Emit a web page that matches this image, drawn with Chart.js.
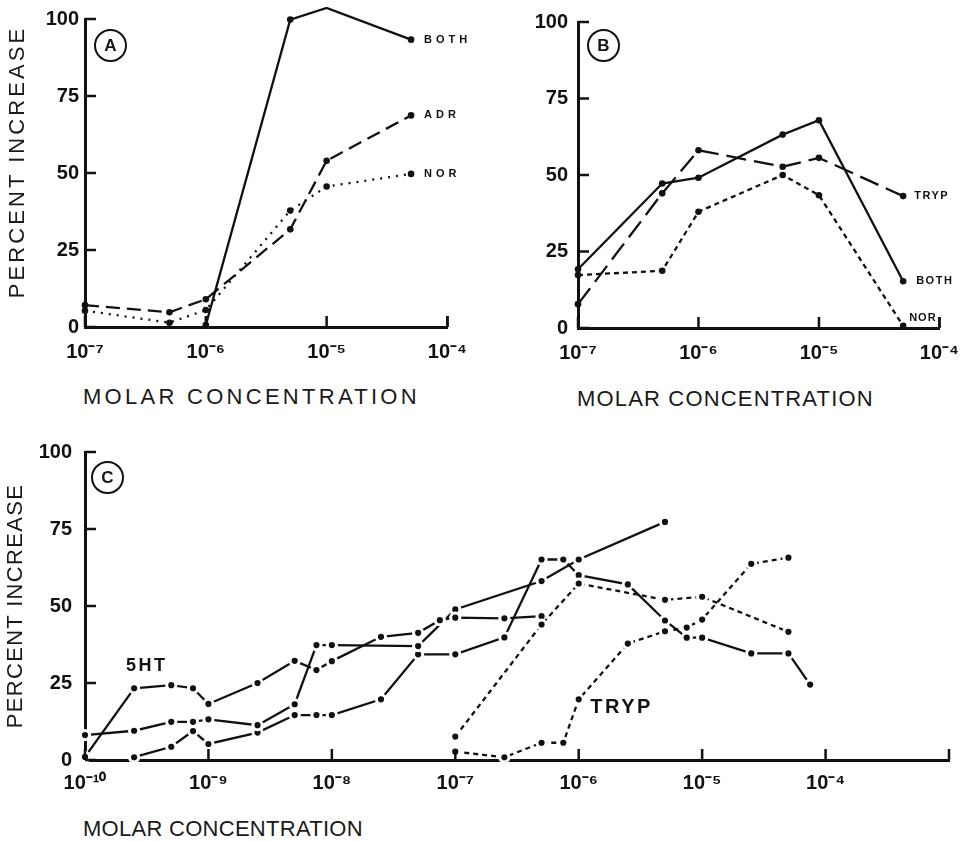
<!DOCTYPE html>
<html>
<head>
<meta charset="utf-8">
<script src="https://cdn.jsdelivr.net/npm/chart.js@4.4.0/dist/chart.umd.min.js"></script>
<style>
  body { margin: 0; background: #fff; width: 972px; height: 841px; position: relative; overflow: hidden; color: #151515; }
  .panel { position: absolute; }
  .ttl { position: absolute; white-space: pre; font: 22px 'Liberation Sans', sans-serif; line-height: 1; color: #1a1a1a; }
  .circ { position: absolute; width: 29px; height: 29px; border: 2px solid #111; border-radius: 50%;
          font: bold 17px 'Liberation Sans Narrow', sans-serif; display: flex; align-items: center; justify-content: center; }
</style>
</head>
<body>
<div class="panel" style="left:0;top:0"><canvas id="chartA" width="480" height="380"></canvas></div>
<div class="panel" style="left:480px;top:0"><canvas id="chartB" width="492" height="380"></canvas></div>
<div class="panel" style="left:0;top:420px"><canvas id="chartC" width="972" height="380"></canvas></div>

<div class="circ" style="left:94px;top:29px">A</div>
<div class="circ" style="left:587px;top:29px">B</div>
<div class="circ" style="left:91px;top:461px">C</div>

<div class="ttl" id="xtA">MOLAR CONCENTRATION</div>
<div class="ttl" id="xtB">MOLAR CONCENTRATION</div>
<div class="ttl" id="xtC">MOLAR CONCENTRATION</div>
<div class="ttl" id="ytA">PERCENT INCREASE</div>
<div class="ttl" id="ytC">PERCENT INCREASE</div>

<script>
'use strict';

// ---- panel A (molar concentration vs percent increase)
const aConc = [1e-7, 5e-7, 1e-6, 5e-6, 1e-5, 5e-5];
const aBoth = [null, null, 0.6, 99.8, 103.6, 93.3];
const aAdr  = [7.1, 4.8, 9.0, 31.7, 54.0, 68.7];
const aNor  = [5.3, 1.4, 5.5, 37.8, 45.6, 49.7];
const aTicksX = [1e-7, 1e-6, 1e-5, 1e-4];

// ---- panel B
const bConc = [1e-7, 5e-7, 1e-6, 5e-6, 1e-5, 5e-5];
const bBoth = [19.2, 47.2, 49.1, 63.2, 67.9, 15.3];
const bTryp = [7.8, 44.0, 58.1, 52.7, 55.6, 43.1];
const bNor  = [17.3, 18.7, 38.0, 50.0, 43.4, 0.7];
const bTicksX = [1e-7, 1e-6, 1e-5, 1e-4];

// ---- panel C (5HT curves solid, TRYP curves dotted)
const c5ht1X = [1e-10, 2.5e-10, 5e-10, 7.5e-10, 1e-9, 2.5e-9, 5e-9, 7.5e-9, 1e-8, 2.5e-8, 5e-8, 7.5e-8, 1e-7, 2.5e-7, 5e-7];
const c5ht1Y = [1, 23.3, 24.3, 23.3, 18.2, 25, 32.2, 29.2, 32.1, 40, 41.3, 45.4, 46.2, 46, 46.7];
const c5ht2X = [1e-10, 2.5e-10, 5e-10, 7.5e-10, 1e-9, 2.5e-9, 5e-9, 7.5e-9, 1e-8, 5e-8, 1e-7, 5e-7, 1e-6, 5e-6];
const c5ht2Y = [8.1, 9.5, 12.4, 12.4, 13.2, 11.3, 18.1, 37.3, 37.3, 37, 48.9, 58.1, 65.1, 77.3];
const c5ht3X = [2.5e-10, 5e-10, 7.5e-10, 1e-9, 2.5e-9, 5e-9, 7.5e-9, 1e-8, 2.5e-8, 5e-8, 1e-7, 2.5e-7, 5e-7, 7.5e-7,
                1e-6, 2.5e-6, 5e-6, 7.5e-6, 1e-5, 2.5e-5, 5e-5, 7.5e-5];
const c5ht3Y = [0.9, 4.3, 9.4, 5.2, 8.9, 14.6, 14.6, 14.6, 19.7, 34.3, 34.3, 39.8, 65.1, 65.1,
                60, 57, 45.3, 39.7, 39.7, 34.6, 34.6, 24.5];
const cTryp1X = [1e-7, 5e-7, 1e-6, 5e-6, 1e-5, 5e-5];
const cTryp1Y = [7.6, 44, 57.3, 52, 53, 41.6];
const cTryp2X = [1e-7, 2.5e-7, 5e-7, 7.5e-7, 1e-6, 2.5e-6, 5e-6, 7.5e-6, 1e-5, 2.5e-5, 5e-5];
const cTryp2Y = [2.7, 0.9, 5.6, 5.6, 19.7, 37.8, 41.8, 43, 45.6, 63.7, 65.7];
const cTicksX = [1e-10, 1e-9, 1e-8, 1e-7, 1e-6, 1e-5, 1e-4];

const yTicks = [0, 25, 50, 75, 100];

const INK = '#111';
const SUP = { '-': '\u207B', '0': '\u2070', '1': '\u00B9', '2': '\u00B2', '3': '\u00B3', '4': '\u2074',
              '5': '\u2075', '6': '\u2076', '7': '\u2077', '8': '\u2078', '9': '\u2079' };

function powLabel(v) {
  const e = Math.round(Math.log10(v));
  return '10' + String(e).split('').map((c) => SUP[c]).join('');
}

function pts(xs, ys) {
  return xs.map((x, i) => ({ x, y: ys[i] })).filter((p) => p.y != null);
}

// short tick marks pointing into the plot, plus the end caps of both axes
const innerTicks = {
  id: 'innerTicks',
  afterDraw(chart, args, o) {
    const { ctx, chartArea: a, scales: { x, y } } = chart;
    const len = o.len || 11;
    ctx.save();
    ctx.strokeStyle = INK;
    ctx.lineWidth = 2.5;
    x.ticks.map((t) => t.value).concat([x.max]).forEach((v) => {
      const px = x.getPixelForValue(v);
      ctx.beginPath(); ctx.moveTo(px, a.bottom); ctx.lineTo(px, a.bottom - len); ctx.stroke();
    });
    y.ticks.forEach((t) => {
      const py = y.getPixelForValue(t.value);
      ctx.beginPath(); ctx.moveTo(a.left, py); ctx.lineTo(a.left + len, py); ctx.stroke();
    });
    ctx.restore();
  },
};

// curve names, either after the last point of a dataset or at a data position
const seriesTags = {
  id: 'seriesTags',
  afterDatasetsDraw(chart, args, o) {
    const { ctx, scales: { x, y } } = chart;
    (o.items || []).forEach((it) => {
      let px, py;
      if (it.ds != null) {
        const meta = chart.getDatasetMeta(it.ds);
        const pt = meta.data[meta.data.length - 1];
        px = pt.x; py = pt.y;
      } else {
        px = x.getPixelForValue(it.x); py = y.getPixelForValue(it.y);
      }
      ctx.save();
      ctx.font = it.font;
      ctx.letterSpacing = it.spacing || '0px';
      ctx.fillStyle = INK;
      ctx.textAlign = 'left';
      ctx.textBaseline = 'middle';
      ctx.fillText(it.text, px + (it.dx || 0), py + (it.dy || 0));
      ctx.restore();
    });
  },
};

function line(data, dash, ringed) {
  return {
    data,
    borderColor: INK,
    backgroundColor: INK,
    borderWidth: 2.3,
    borderDash: dash,
    pointRadius: ringed ? 4.6 : 3.3,
    pointBackgroundColor: INK,
    pointBorderColor: ringed ? '#fff' : INK,
    pointBorderWidth: ringed ? 3 : 0,
    tension: 0,
    clip: false,
  };
}

const tickFont = { family: "'Liberation Sans Narrow', sans-serif", weight: 'bold', size: 20 };

function panel(id, cfg) {
  return new Chart(document.getElementById(id), {
    type: 'line',
    data: { datasets: cfg.datasets },
    options: {
      responsive: false,
      animation: false,
      devicePixelRatio: 1,
      layout: { padding: { top: cfg.top, right: cfg.right, left: 0, bottom: 0 } },
      plugins: {
        legend: { display: false },
        tooltip: { enabled: false },
        innerTicks: { len: 11 },
        seriesTags: { items: cfg.tags },
      },
      scales: {
        x: {
          type: 'logarithmic',
          min: cfg.xMin,
          max: cfg.xMax,
          afterBuildTicks: (s) => { s.ticks = cfg.xTicks.map((v) => ({ value: v })); },
          afterFit: (s) => { s.height = cfg.xH; },
          grid: { display: false, drawTicks: false },
          border: { color: INK, width: 3 },
          ticks: { autoSkip: false, maxRotation: 0, padding: cfg.xPad, color: INK, font: tickFont,
                   callback: (v) => powLabel(v) },
        },
        y: {
          min: 0,
          max: 100,
          afterBuildTicks: (s) => { s.ticks = yTicks.map((v) => ({ value: v })); },
          afterFit: (s) => { s.width = cfg.yW; },
          grid: { display: false, drawTicks: false },
          border: { color: INK, width: 3 },
          ticks: { padding: cfg.yPad, color: INK, font: tickFont, callback: (v) => String(v) },
        },
      },
    },
    plugins: [innerTicks, seriesTags],
  });
}

const tagFont = "bold 11px 'Liberation Sans', sans-serif";

panel('chartA', {
  top: 19, right: 25, yW: 85, xH: 53, xPad: 13, yPad: 6,
  xMin: 1e-7, xMax: 1e-4, xTicks: aTicksX,
  datasets: [
    line(pts(aConc, aBoth), []),
    line(pts(aConc, aAdr), [14, 7]),
    line(pts(aConc, aNor), [2, 6]),
  ],
  tags: [
    { ds: 0, text: 'BOTH', dx: 13, font: tagFont, spacing: '4px' },
    { ds: 1, text: 'ADR', dx: 13, font: tagFont, spacing: '4px' },
    { ds: 2, text: 'NOR', dx: 13, font: tagFont, spacing: '4px' },
  ],
});

panel('chartB', {
  top: 22, right: 22, yW: 98, xH: 52, xPad: 13, yPad: 10,
  xMin: 1e-7, xMax: 1e-4, xTicks: bTicksX,
  datasets: [
    line(pts(bConc, bBoth), []),
    line(pts(bConc, bTryp), [20, 8]),
    line(pts(bConc, bNor), [5, 4]),
  ],
  tags: [
    { ds: 0, text: 'BOTH', dx: 13, font: tagFont, spacing: '1.5px' },
    { ds: 1, text: 'TRYP', dx: 11, font: tagFont, spacing: '1.5px' },
    { ds: 2, text: 'NOR', dx: 6, dy: -8, font: tagFont, spacing: '1px' },
  ],
});

panel('chartC', {
  top: 32, right: 23, yW: 85, xH: 40, xPad: 11, yPad: 13,
  xMin: 1e-10, xMax: 1e-3, xTicks: cTicksX,
  datasets: [
    line(pts(cTryp1X, cTryp1Y), [5, 4], true),
    line(pts(cTryp2X, cTryp2Y), [5, 4], true),
    line(pts(c5ht1X, c5ht1Y), [], true),
    line(pts(c5ht2X, c5ht2Y), [], true),
    line(pts(c5ht3X, c5ht3Y), [], true),
  ],
  tags: [
    { x: 2.15e-10, y: 30.5, text: '5HT', font: "bold 18px 'Liberation Sans Narrow', sans-serif", spacing: '2.5px' },
    { x: 1.24e-6, y: 17.2, text: 'TRYP', font: "bold 20px 'Liberation Sans Narrow', sans-serif", spacing: '2.5px' },
  ],
});

// stretch the axis titles to the width they take in the figure
function spread(el, target) {
  el.style.letterSpacing = '0px';
  const w = el.offsetWidth;
  const n = el.textContent.length;
  el.style.letterSpacing = ((target - w) / (n - 1)) + 'px';
}
function xTitle(id, left, cy, width) {
  const el = document.getElementById(id);
  spread(el, width);
  el.style.left = left + 'px';
  el.style.top = (cy - el.offsetHeight / 2) + 'px';
}
function yTitle(id, cx, cy, length) {
  const el = document.getElementById(id);
  spread(el, length);
  const w = el.offsetWidth, h = el.offsetHeight;
  el.style.left = (cx - w / 2) + 'px';
  el.style.top = (cy - h / 2) + 'px';
  el.style.transform = 'rotate(-90deg)';
}
xTitle('xtA', 83, 397, 334);
xTitle('xtB', 577, 399, 296);
xTitle('xtC', 83, 829, 280);
yTitle('ytA', 17, 162, 269);
yTitle('ytC', 15, 606, 243);
</script>
</body>
</html>
